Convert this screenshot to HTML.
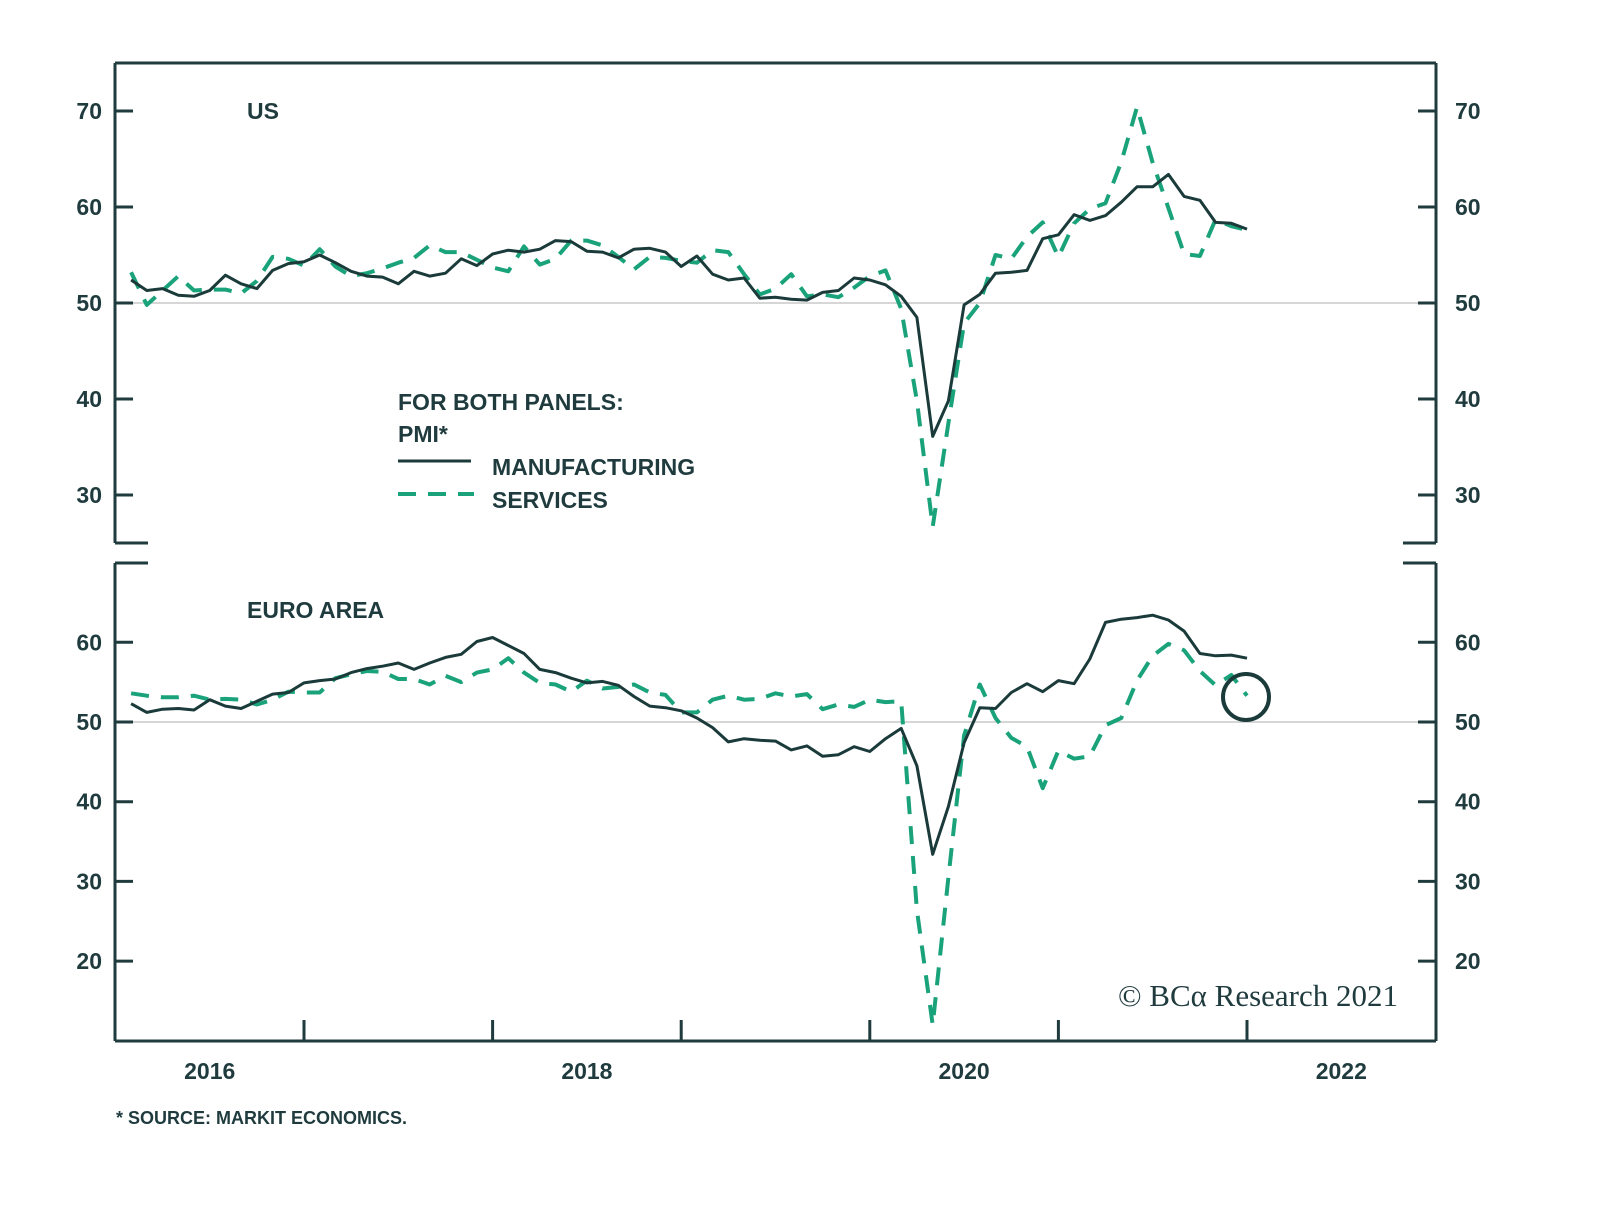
<!DOCTYPE html>
<html><head><meta charset="utf-8"><style>
body{margin:0;background:#fff;}
svg text{font-family:"Liberation Sans",Arial,sans-serif;font-weight:bold;fill:#1f3b3e;}
</style></head><body>
<svg id="chart" width="1600" height="1221" viewBox="0 0 1600 1221" xmlns="http://www.w3.org/2000/svg">
<g id="frame" stroke="#1f3b3e" stroke-width="3" fill="none">
<line x1="115" y1="63" x2="1436" y2="63"/>
<line x1="115" y1="1041" x2="1436" y2="1041"/>
<line x1="115" y1="63" x2="115" y2="543"/>
<line x1="1436" y1="63" x2="1436" y2="543"/>
<line x1="115" y1="563" x2="115" y2="1041"/>
<line x1="1436" y1="563" x2="1436" y2="1041"/>
<line x1="115" y1="543" x2="148" y2="543"/>
<line x1="1403" y1="543" x2="1436" y2="543"/>
<line x1="115" y1="563" x2="148" y2="563"/>
<line x1="1403" y1="563" x2="1436" y2="563"/>
</g>
<g id="axes"></g>
<g id="series"></g>
<text x="247" y="119" font-size="23">US</text>
<text x="247" y="618" font-size="23">EURO AREA</text>
<g>
<text x="398" y="410" font-size="23">FOR BOTH PANELS:</text>
<text x="398" y="442" font-size="23">PMI*</text>
<line x1="398" y1="461" x2="471" y2="461" stroke="#1b3a3a" stroke-width="3"/>
<text x="492" y="475" font-size="23">MANUFACTURING</text>
<line x1="398" y1="494" x2="474" y2="494" stroke="#1aa37a" stroke-width="4" stroke-dasharray="18,12"/>
<text x="492" y="508" font-size="23">SERVICES</text>
</g>
<circle cx="1246" cy="697" r="23" fill="none" stroke="#1b3a3a" stroke-width="4"/>
<text x="1118" y="1006" font-size="31" style="font-family:'Liberation Serif',serif;font-weight:normal">© BCα Research 2021</text>
<text x="116" y="1124" font-size="18">* SOURCE: MARKIT ECONOMICS.</text>
</svg>
<script>
const usTicks=[30,40,50,60,70];
const euTicks=[20,30,40,50,60];
const yearLabels=["2016","2018","2020","2022"];
const yearLabelPos=[2016.5,2018.5,2020.5,2022.5];
const yearTicks=[2017,2018,2019,2020,2021,2022];
const usManufacturing=[52.4,51.3,51.5,50.8,50.7,51.3,52.9,52.0,51.5,53.4,54.1,54.3,
55.0,54.2,53.3,52.8,52.7,52.0,53.3,52.8,53.1,54.6,53.9,55.1,
55.5,55.3,55.6,56.5,56.4,55.4,55.3,54.7,55.6,55.7,55.3,53.8,
54.9,53.0,52.4,52.6,50.5,50.6,50.4,50.3,51.1,51.3,52.6,52.4,
51.9,50.7,48.5,36.1,39.8,49.8,50.9,53.1,53.2,53.4,56.7,57.1,
59.2,58.6,59.1,60.5,62.1,62.1,63.4,61.1,60.7,58.4,58.3,57.7];
const usServices=[53.2,49.8,51.3,52.8,51.3,51.4,51.4,51.0,52.3,54.8,54.6,53.9,
55.6,53.8,52.8,53.1,53.6,54.2,54.7,56.0,55.3,55.3,54.5,53.7,
53.3,55.9,54.0,54.6,56.5,56.5,56.0,54.8,53.5,54.8,54.7,54.4,
54.2,55.5,55.3,53.0,50.9,51.5,53.0,50.7,50.9,50.6,51.6,52.8,
53.4,49.4,39.8,26.7,37.5,47.9,50.0,55.0,54.6,56.9,58.4,54.8,
58.3,59.8,60.4,64.7,70.4,64.6,59.9,55.1,54.9,58.7,58.0,57.6];
const euManufacturing=[52.3,51.2,51.6,51.7,51.5,52.8,52.0,51.7,52.6,53.5,53.7,54.9,
55.2,55.4,56.2,56.7,57.0,57.4,56.6,57.4,58.1,58.5,60.1,60.6,
59.6,58.6,56.6,56.2,55.5,54.9,55.1,54.6,53.2,52.0,51.8,51.4,
50.5,49.3,47.5,47.9,47.7,47.6,46.5,47.0,45.7,45.9,46.9,46.3,
47.9,49.2,44.5,33.4,39.4,47.4,51.8,51.7,53.7,54.8,53.8,55.2,
54.8,57.9,62.5,62.9,63.1,63.4,62.8,61.4,58.6,58.3,58.4,58.0];
const euServices=[53.6,53.3,53.1,53.1,53.3,52.8,52.9,52.8,52.2,52.8,53.8,53.7,
53.7,55.5,56.0,56.4,56.3,55.4,55.4,54.7,55.8,55.0,56.2,56.6,
58.0,56.2,54.9,54.7,53.8,55.2,54.2,54.4,54.7,53.7,53.4,51.2,
51.2,52.8,53.3,52.8,52.9,53.6,53.2,53.5,51.6,52.2,51.9,52.8,
52.5,52.6,26.4,12.0,30.5,48.3,54.7,50.5,48.0,46.9,41.7,46.4,
45.4,45.7,49.6,50.5,55.2,58.3,59.8,59.0,56.4,54.6,55.9,53.3];

const NS="http://www.w3.org/2000/svg";
const xYear=t=>115.4+(t-2016)*188.6;
const xMonth=i=>xYear(2016+(i+1)/12);
const yUS=v=>303-(v-50)*9.6;
const yEU=v=>722-(v-50)*7.97;
const axes=document.getElementById('axes');
const ser=document.getElementById('series');
function mk(tag,attrs,parent){const e=document.createElementNS(NS,tag);for(const k in attrs)e.setAttribute(k,attrs[k]);parent.appendChild(e);return e;}
function panelAxis(ticks,yf,name){
  let g=mk('line',{x1:115,x2:1436,y1:yf(50),y2:yf(50),stroke:'#c8c8c8','stroke-width':1.5},axes);
  
  
  ticks.forEach(t=>{
    const y=yf(t);
    let l=mk('line',{x1:115,x2:133,y1:y,y2:y,stroke:'#1f3b3e','stroke-width':3},axes);
    
    
    let r=mk('line',{x1:1418,x2:1436,y1:y,y2:y,stroke:'#1f3b3e','stroke-width':3},axes);
    
    
    let a=mk('text',{x:102,y:y+8,'text-anchor':'end','font-size':23},axes);a.textContent=t;
    
    
    let b=mk('text',{x:1455,y:y+8,'font-size':23},axes);b.textContent=t;
    
    
  });
}
panelAxis(usTicks,yUS,'us');
panelAxis(euTicks,yEU,'euro');
yearTicks.forEach(t=>{
  let l=mk('line',{x1:xYear(t),x2:xYear(t),y1:1020,y2:1041,stroke:'#1f3b3e','stroke-width':3},axes);
  
  
});
yearLabels.forEach((s,i)=>{
  let t=mk('text',{x:xYear(yearLabelPos[i]),y:1079,'text-anchor':'middle','font-size':23},axes);t.textContent=s;
  
  
});
function line(data,yf,dashed,name){
  const d=data.map((v,i)=>(i?'L':'M')+xMonth(i).toFixed(1)+','+yf(v).toFixed(1)).join(' ');
  const p=mk('path',{d:d,fill:'none',stroke:dashed?'#1aa37a':'#1b3a3a','stroke-width':dashed?4:3,'stroke-linejoin':'round'},ser);
  if(dashed)p.setAttribute('stroke-dasharray','18,12');
  
  
}
line(usServices,yUS,true,'us-services-line');
line(usManufacturing,yUS,false,'us-manufacturing-line');
line(euServices,yEU,true,'euro-services-line');
line(euManufacturing,yEU,false,'euro-manufacturing-line');
</script>
</body></html>
